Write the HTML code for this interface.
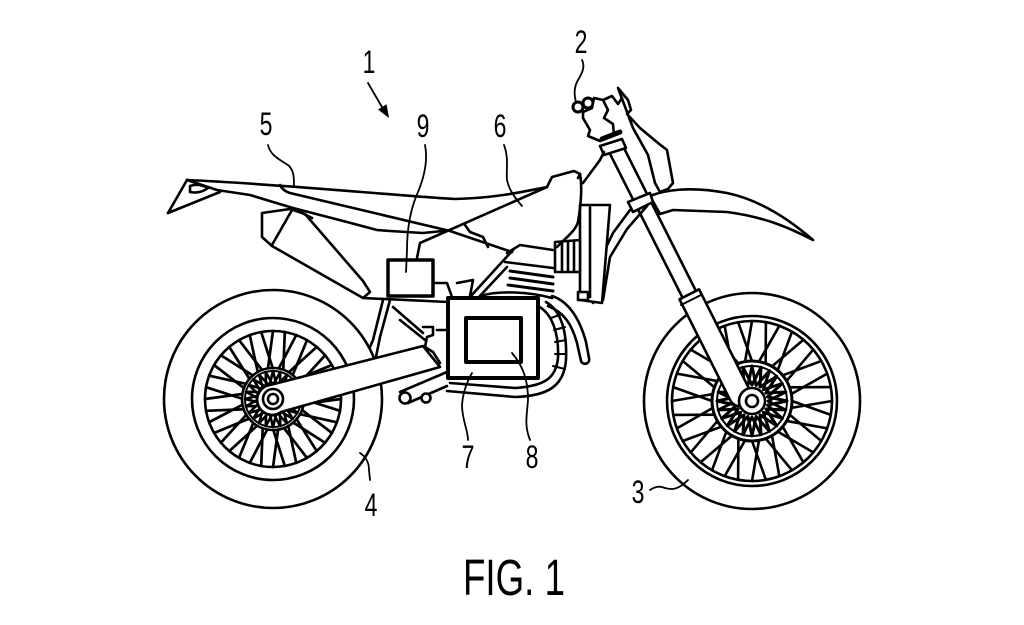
<!DOCTYPE html>
<html><head><meta charset="utf-8">
<style>
html,body{margin:0;padding:0;background:#fff;width:1024px;height:625px;overflow:hidden}
svg{display:block}
</style></head><body>
<svg width="1024" height="625" viewBox="0 0 1024 625" xmlns="http://www.w3.org/2000/svg">
<rect width="1024" height="625" fill="#fff"/>
<defs>
<g id="rs"><line x1="303" y1="399" x2="340" y2="410.8"/><line x1="302.5" y1="404.2" x2="341" y2="399"/></g>
<g id="fs"><line x1="792" y1="401" x2="830.8" y2="414.9"/><line x1="791.4" y1="407.9" x2="832" y2="401"/></g>
<polygon id="rz" points="301,399 286.5,402.6 297.2,413 282.9,408.9 287,423.2 276.6,412.5 273,427 269.4,412.5 259,423.2 263.1,408.9 248.8,413 259.5,402.6 245,399 259.5,395.4 248.8,385 263.1,389.1 259,374.8 269.4,385.5 273,371 276.6,385.5 287,374.8 282.9,389.1 297.2,385 286.5,395.4"/>
<polygon id="fz" points="787,401 767.5,405.1 782.3,418.5 763.3,412.3 769.5,431.3 756.1,416.5 752,436 747.9,416.5 734.5,431.3 740.7,412.3 721.7,418.5 736.5,405.1 717,401 736.5,396.9 721.7,383.5 740.7,389.7 734.5,370.7 747.9,385.5 752,366 756.1,385.5 769.5,370.7 763.3,389.7 782.3,383.5 767.5,396.9"/>
</defs>
<g fill="none" stroke="#000" stroke-width="2.6" stroke-linecap="round" stroke-linejoin="round">

<!-- REAR WHEEL -->
<circle cx="273" cy="399" r="109"/>
<circle cx="273" cy="399" r="81"/>
<circle cx="273" cy="399" r="68"/>
<g stroke-width="2.7">
<use href="#rs"/>
<use href="#rs" transform="rotate(20 273 399)"/>
<use href="#rs" transform="rotate(40 273 399)"/>
<use href="#rs" transform="rotate(60 273 399)"/>
<use href="#rs" transform="rotate(80 273 399)"/>
<use href="#rs" transform="rotate(100 273 399)"/>
<use href="#rs" transform="rotate(120 273 399)"/>
<use href="#rs" transform="rotate(140 273 399)"/>
<use href="#rs" transform="rotate(160 273 399)"/>
<use href="#rs" transform="rotate(180 273 399)"/>
<use href="#rs" transform="rotate(200 273 399)"/>
<use href="#rs" transform="rotate(220 273 399)"/>
<use href="#rs" transform="rotate(240 273 399)"/>
<use href="#rs" transform="rotate(260 273 399)"/>
<use href="#rs" transform="rotate(280 273 399)"/>
<use href="#rs" transform="rotate(300 273 399)"/>
<use href="#rs" transform="rotate(320 273 399)"/>
<use href="#rs" transform="rotate(340 273 399)"/>
</g>
<circle cx="273" cy="399" r="31" fill="#fff"/>
<circle cx="273" cy="399" r="28" stroke-width="2"/>
<g stroke-width="2.6">
<use href="#rz"/>
<use href="#rz" transform="rotate(15 273 399)"/>
</g>
<circle cx="273" cy="399" r="14" fill="#fff"/>

<!-- swingarm -->
<path d="M423,346 L270,385 A15,15 0 1 0 281,412 L440,367 Z" fill="#fff"/>
<circle cx="273" cy="399" r="10" fill="#fff"/>
<circle cx="273" cy="399" r="5"/>

<!-- FRONT WHEEL -->
<circle cx="752" cy="401" r="108"/>
<circle cx="752" cy="401" r="85"/>
<circle cx="752" cy="401" r="80"/>
<g stroke-width="2.6">
<use href="#fs"/>
<use href="#fs" transform="rotate(20 752 401)"/>
<use href="#fs" transform="rotate(40 752 401)"/>
<use href="#fs" transform="rotate(60 752 401)"/>
<use href="#fs" transform="rotate(80 752 401)"/>
<use href="#fs" transform="rotate(100 752 401)"/>
<use href="#fs" transform="rotate(120 752 401)"/>
<use href="#fs" transform="rotate(140 752 401)"/>
<use href="#fs" transform="rotate(160 752 401)"/>
<use href="#fs" transform="rotate(180 752 401)"/>
<use href="#fs" transform="rotate(200 752 401)"/>
<use href="#fs" transform="rotate(220 752 401)"/>
<use href="#fs" transform="rotate(240 752 401)"/>
<use href="#fs" transform="rotate(260 752 401)"/>
<use href="#fs" transform="rotate(280 752 401)"/>
<use href="#fs" transform="rotate(300 752 401)"/>
<use href="#fs" transform="rotate(320 752 401)"/>
<use href="#fs" transform="rotate(340 752 401)"/>
</g>
<circle cx="752" cy="401" r="40" fill="#fff" stroke-width="3"/>
<circle cx="752" cy="401" r="35" stroke-width="2"/>
<g stroke-width="3">
<use href="#fz"/>
<use href="#fz" transform="rotate(15 752 401)"/>
</g>

<!-- front fender -->
<path d="M650,196 C665,190 690,186 727,193 C760,200 790,220 813,240 C790,228 765,217 727,212 L673,210 L660,214 Z" fill="#fff"/>

<!-- number plate -->
<path d="M618,88 L628,100 L631,110 L627,114 L640,128 L658,143 L667,150 L673,183 L668,189 L660,192 L655,183 L648,155 L633,128 Z" fill="#fff"/>

<!-- fork upper tubes -->
<path d="M608.3,150.4 L621.7,143.6 L698.2,295.4 L684.8,302.2 Z" fill="#fff"/>
<!-- fork lower leg -->
<path d="M679.5,299.3 L699.1,289.3 L749.9,390.3 A11,11 0 0 1 730.3,400.3 Z" fill="#fff"/>
<line x1="681" y1="305" x2="701" y2="295" stroke-width="2"/>
<!-- clamps -->
<path d="M600,146 L622,139 L626,148 L604,155 Z" fill="#fff"/>
<path d="M628,202 L650,193 L653,202 L633,212 Z" fill="#fff"/>
<circle cx="752" cy="401" r="13" fill="#fff"/>
<circle cx="752" cy="401" r="6"/>

<!-- handlebar area -->
<circle cx="578" cy="107" r="5" stroke-width="3"/>
<circle cx="588" cy="103" r="5" stroke-width="3"/>
<path d="M583,118 L590,130 L588,136 L600,141 L614,135 L613,124 L604,118 L608,110 L603,100 L594,98 L592,108 L583,112 Z" fill="#fff"/>
<line x1="602" y1="139" x2="620" y2="132" stroke-width="5"/>
<path d="M603,100 L612,96 L618,104 L622,98"/>

<!-- radiator shroud / frame from head tube -->
<path d="M630,210 L613,233 L600,260 L593,303"/>
<path d="M647,206 L627,229 L610,257 L603,300"/>
<path d="M583,183 L600,160 L604,152"/>

<!-- radiator -->
<path d="M580,205 L610,205 L602,303 L580,300 Z" fill="#fff"/>
<line x1="590" y1="207" x2="590" y2="297"/>
<rect x="578" y="292" width="10" height="8" fill="#fff"/>
<path d="M555,242 L580,240 L580,272 L555,272 Z" fill="#fff"/>
<line x1="562" y1="242" x2="562" y2="272"/>
<line x1="568" y1="241" x2="568" y2="272"/>
<line x1="574" y1="241" x2="574" y2="272"/>

<!-- tail / seat -->
<path d="M168,213 L187,180"/>
<path d="M168,213 L220,192"/>
<path d="M190,186 Q198,183 208,188 Q200,194 190,192 Z"/>
<path d="M187,180 C280,184 400,196 455,199 C500,198 530,190 547,187"/>
<path d="M547,187 L552,177 L574,171 L580,174 L578,178"/>
<path d="M580,174 C583,190 580,210 578,222 C575,232 565,238 557,247"/>
<path d="M280,185 Q283,191 290,193 L450,231 L512,252"/>
<path d="M187,180 L217,190 L250,195 L293,208 L347,222 L377,230 L390,231 L423,233 L443,231"/>
<path d="M417,258 L420,243 L547,187"/>
<path d="M465,225 L470,232 L483,237 L488,247"/>

<!-- airbox / side panel -->
<path d="M262,213 L290,209 L305,214 L363,281 L370,292 L363,298 L272,246 L262,237 Z"/>
<line x1="292" y1="210" x2="272" y2="245"/>
<path d="M300,212 L312,218"/>
<line x1="363" y1="298" x2="448" y2="302"/>

<!-- box 9 -->
<rect x="388" y="260" width="45" height="36" stroke-width="3.5" fill="#fff"/>

<!-- engine / cylinder -->
<path d="M507,253 L520,245 L553,250"/>
<path d="M505,262 L553,268"/>
<g stroke-width="3">
<line x1="510" y1="271" x2="553" y2="277"/>
<line x1="510" y1="278" x2="553" y2="284"/>
<line x1="508" y1="285" x2="553" y2="291"/>
</g>
<line x1="470" y1="297" x2="513" y2="250"/>
<line x1="478" y1="298" x2="507" y2="267"/>
<path d="M433,283 L447,283 L452,297"/>
<path d="M457,283 L473,280 L470,296"/>
<path d="M480,296 C500,290 530,292 552,298"/>

<!-- exhaust header J-hook -->
<path d="M552,296 C570,302 580,320 586,342 L589,358 A4,4 0 0 1 581,361 L577,343 C572,325 565,313 548,306"/>
<!-- pipe under engine -->
<path d="M538,306 C553,314 559,335 558,358 C556,378 545,386 515,388 L450,383"/>
<path d="M546,302 C563,312 567,336 566,360 C564,386 548,396 515,397 L447,391"/>
<g stroke-width="2">
<line x1="551" y1="318" x2="562" y2="314"/>
<line x1="554" y1="330" x2="565" y2="327"/>
<line x1="555" y1="342" x2="566" y2="340"/>
<line x1="555" y1="354" x2="566" y2="354"/>
<line x1="553" y1="366" x2="565" y2="369"/>
</g>

<!-- rear frame / shock area -->
<path d="M390,300 L380,337 L376,357"/>
<path d="M383,300 L373,340 L370,347"/>
<path d="M393,307 L423,333"/>
<path d="M400,320 L425,340"/>
<path d="M423,327 L433,327 L433,335 L427,337 L425,347 L433,352 L440,363"/>
<path d="M437,330 L448,330"/>

<!-- footpeg -->
<path d="M400,392 L447,372"/>
<path d="M408,403 L447,386"/>
<circle cx="405" cy="398" r="5.5" fill="#fff"/>
<circle cx="426" cy="398" r="4.5" fill="#fff"/>

<!-- box 7 and 8 -->
<rect x="448" y="298" width="90" height="80" stroke-width="4" fill="#fff"/>
<rect x="466" y="318" width="55" height="44" stroke-width="4" fill="#fff"/>
</g>

<!-- leaders -->
<g fill="none" stroke="#000" stroke-width="1.8" stroke-linecap="round">
<path d="M582,60 C585,66 583,72 578,80 C574,87 574,95 576,102"/>
<path d="M268,145 C270,155 280,160 288,165 C294,170 294,178 294,185"/>
<path d="M425,145 C428,160 425,175 418,192 C410,210 407,230 407,250 L406,272"/>
<path d="M504,145 C509,158 506,170 507,180 C509,190 515,198 522,206"/>
<path d="M472,373 C468,380 463,390 462,405 C462,420 468,430 468,440"/>
<path d="M512,353 C522,365 528,378 528,400 C527,415 524,425 530,440"/>
<path d="M360,453 C366,457 369,462 369,470 L370,480"/>
<path d="M650,490 C656,486 660,486 665,488 C672,490 678,490 688,480"/>
<line x1="368" y1="83" x2="382" y2="107"/>
</g>
<polygon points="389,118 386.6,104.3 378,109.5" fill="#000"/>

<!-- labels -->
<g font-family="'Liberation Sans', sans-serif" font-size="32" fill="#000" text-anchor="middle">
<text transform="translate(369,73) scale(0.72,1)">1</text>
<text transform="translate(581,53) scale(0.72,1)">2</text>
<text transform="translate(266,135) scale(0.72,1)">5</text>
<text transform="translate(423,137) scale(0.72,1)">9</text>
<text transform="translate(500,137) scale(0.72,1)">6</text>
<text transform="translate(468,468) scale(0.72,1)">7</text>
<text transform="translate(532,468) scale(0.72,1)">8</text>
<text transform="translate(371,516) scale(0.72,1)">4</text>
<text transform="translate(638,503) scale(0.72,1)">3</text>
<text transform="translate(514,595) scale(0.72,1)" font-size="51">FIG. 1</text>
</g>
</svg>
</body></html>
